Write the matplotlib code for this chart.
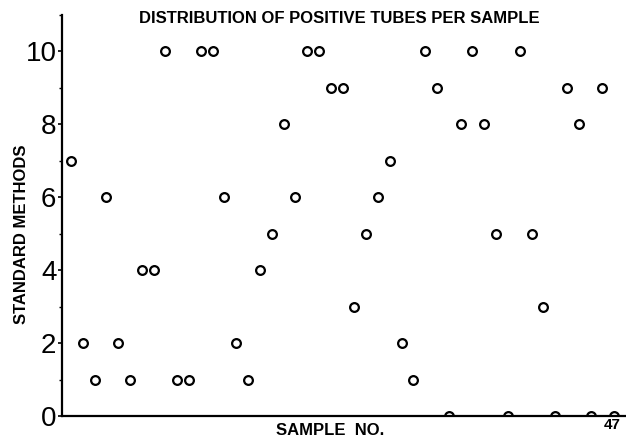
import matplotlib
matplotlib.use("Agg")
import matplotlib.pyplot as plt
from matplotlib.ticker import MultipleLocator

sample_no = list(range(1, 48))
positive_tubes = [7, 2, 1, 6, 2, 1, 4, 4, 10, 1,
                  1, 10, 10, 6, 2, 1, 4, 5, 8, 6,
                  10, 10, 9, 9, 3, 5, 6, 7, 2, 1,
                  10, 9, 0, 8, 10, 8, 5, 0, 10, 5,
                  3, 0, 9, 8, 0, 9, 0]
y_ticks = [0, 2, 4, 6, 8, 10]

plt.rcParams['font.family'] = ['Liberation Sans', 'DejaVu Sans']

fig = plt.figure(figsize=(6.26, 4.4), dpi=100)
ax = fig.add_axes([0.099, 0.0545, 0.901, 0.9115])

ax.plot(sample_no, positive_tubes, linestyle='none', marker='o',
        markersize=6.3, markerfacecolor='white', markeredgecolor='black',
        markeredgewidth=1.6, clip_on=True, zorder=2)

ax.set_xlim(0.24, 48.0)
ax.set_ylim(0, 11)
ax.set_yticks(y_ticks)
ax.yaxis.set_minor_locator(MultipleLocator(1))
ax.set_xticks([])
ax.tick_params(axis='y', which='major', length=3, width=1.2, labelsize=20, pad=1)
ax.tick_params(axis='y', which='minor', length=2, width=1.0)

for s in ['top', 'right']:
    ax.spines[s].set_visible(False)
for s in ['left', 'bottom']:
    ax.spines[s].set_linewidth(1.6)
    ax.spines[s].set_zorder(3)

ax.set_ylabel('STANDARD METHODS', fontsize=12, fontweight='bold')
ax.yaxis.set_label_coords(-0.058, 0.454)
fig.text(0.527, 0.005, 'SAMPLE  NO.', ha='center', va='bottom',
         fontsize=12, fontweight='bold')
fig.text(0.978, 0.018, '47', ha='center', va='bottom', fontsize=11, fontweight='bold')
fig.text(0.542, 0.958, 'DISTRIBUTION OF POSITIVE TUBES PER SAMPLE', ha='center',
         va='center', fontsize=12, fontweight='bold')

fig.savefig('out.png', dpi=100)
